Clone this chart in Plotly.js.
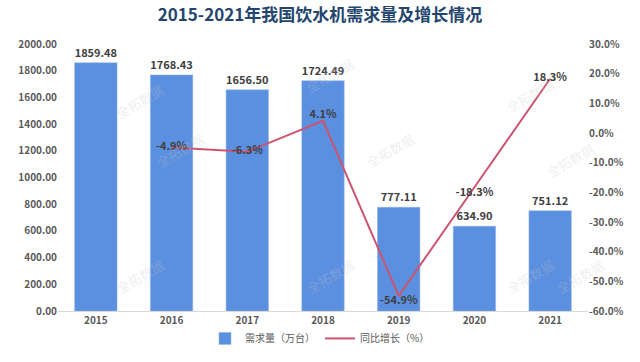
<!DOCTYPE html>
<html><head><meta charset="utf-8">
<script src="https://cdn.plot.ly/plotly-3.0.1.min.js"></script>
<style>body{margin:0;background:#fff}#c{width:640px;height:362px}</style>
</head><body><div id="c"></div>
<script>
const years = ['2015','2016','2017','2018','2019','2020','2021'];
const demand = [1859.48, 1768.43, 1656.50, 1724.49, 777.11, 634.90, 751.12];
const growthYears = ['2016','2017','2018','2019','2020','2021'];
const growth = [-4.9, -6.3, 4.1, -54.9, -18.3, 18.3];
const leftTicks = [0,200,400,600,800,1000,1200,1400,1600,1800,2000];
const rightTicks = [-60,-50,-40,-30,-20,-10,0,10,20,30];

const font = "'Noto Sans CJK SC', 'Noto Sans', sans-serif";
const traces = [
  {type:'bar', x:years, y:demand, name:'需求量（万台）', width:0.56,
   marker:{color:'#5B8FE0', line:{color:'#8fb2ea', width:0.5}},
   text:demand.map(v=>v.toFixed(2)), textposition:'outside', cliponaxis:false,
   textfont:{family:font, size:11, color:'#404040', weight:'bold'}, hoverinfo:'skip'},
  {type:'scatter', mode:'lines+text', x:growthYears, y:growth, yaxis:'y2', name:'同比增长（%）',
   line:{color:'#CC5470', width:2},
   text:growth.map(v=>v.toFixed(1)+'%'),
   textposition:['middle center','middle center','top center','bottom center','bottom center','middle center'],
   textfont:{family:font, size:11, color:'#404040', weight:'bold'}, cliponaxis:false, hoverinfo:'skip'}
];
const wm = [[110,78],[330,52],[560,72],[150,150],[390,150],[610,300],[110,300],[330,300],[560,300],[600,160]];
const layout = {
  width:640, height:362,
  margin:{l:58, r:52, t:44, b:51},
  paper_bgcolor:'#fff', plot_bgcolor:'#fff',
  title:{text:'<b>2015-2021年我国饮水机需求量及增长情况</b>', font:{family:font, size:17, color:'#24466E'}, x:0.5, xanchor:'center', y:0.975, yanchor:'top'},
  font:{family:font, color:'#595959'},
  xaxis:{type:'category', categoryarray:years, showgrid:false, showline:true, linecolor:'#d9d9d9', linewidth:1, ticks:'',
    tickfont:{size:10, color:'#595959', weight:'bold'}, zeroline:false},
  yaxis:{range:[0,2000], tickvals:leftTicks, ticktext:leftTicks.map(v=>v.toFixed(2)), showgrid:false, zeroline:false, showline:false,
    tickfont:{size:10, color:'#595959', weight:'bold'}, ticks:''},
  yaxis2:{overlaying:'y', side:'right', range:[-60,30], tickvals:rightTicks, ticktext:rightTicks.map(v=>v.toFixed(1)+'%'),
    showgrid:false, zeroline:false, showline:false, tickfont:{size:10, color:'#595959', weight:'bold'}, ticks:''},
  showlegend:true,
  legend:{orientation:'h', x:0.5, xanchor:'center', xref:'container', yref:'container', y:0.025, yanchor:'bottom',
    font:{size:10, color:'#595959'}, traceorder:'normal', itemwidth:30, tracegroupgap:0},
  annotations: wm.map(p=>({xref:'paper', yref:'paper', x:(p[0]-58)/530, y:(311-p[1])/267, text:'全拓数据', showarrow:false, textangle:-30,
    font:{family:font, size:13, color:'rgba(200,200,200,0.3)'}}))
};
Plotly.newPlot('c', traces, layout, {displayModeBar:false, staticPlot:true});
</script></body></html>
